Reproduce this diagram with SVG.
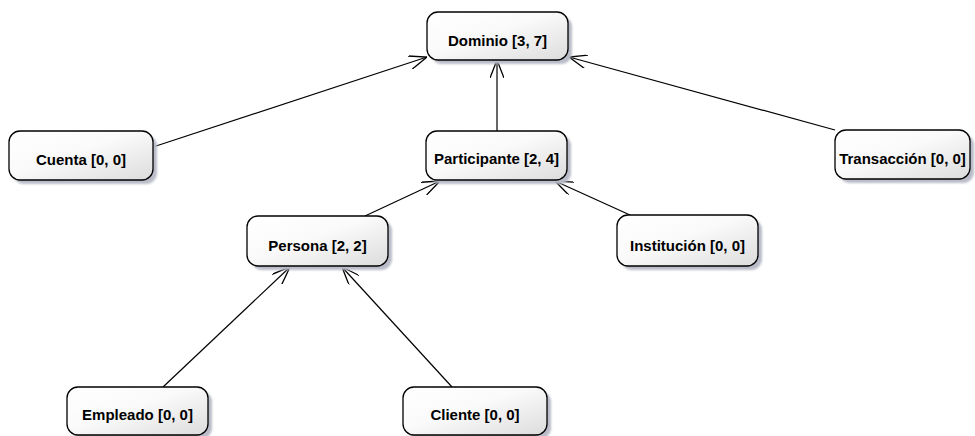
<svg xmlns="http://www.w3.org/2000/svg" width="975" height="436" viewBox="0 0 975 436">
  <defs>
    <linearGradient id="boxFill" x1="0" y1="0" x2="1" y2="1">
      <stop offset="0" stop-color="#ffffff"/>
      <stop offset="0.45" stop-color="#fafafa"/>
      <stop offset="1" stop-color="#dcdcdc"/>
    </linearGradient>
    <filter id="soft" x="-10%" y="-10%" width="130%" height="140%">
      <feGaussianBlur stdDeviation="1.2"/>
    </filter>
    <marker id="open" viewBox="0 0 18 14" refX="18" refY="7" markerWidth="18" markerHeight="14" markerUnits="userSpaceOnUse" orient="auto">
      <path d="M0,0 L18,7 L0,14" fill="none" stroke="#000" stroke-width="1.3"/>
    </marker>
    <style>
      .shadow { fill: #b9bcc8; filter: url(#soft); }
      .box { fill: url(#boxFill); stroke: #000; stroke-width: 1.3; }
      .label { font-family: "Liberation Sans", Arial, sans-serif; font-weight: bold; font-size: 15px; fill: #000; text-anchor: middle; }
      .edge { fill: none; stroke: #000; stroke-width: 1.2; marker-end: url(#open); }
    </style>
  </defs>
  <rect width="975" height="436" fill="#ffffff"/>

  <g id="connectors">
    <path class="edge" d="M153,147 L427,57"/>
    <path class="edge" d="M497,131 L497,60"/>
    <path class="edge" d="M835,130 L569,57"/>
    <path class="edge" d="M365,216 L440,181"/>
    <path class="edge" d="M630,215 L555,181"/>
    <path class="edge" d="M163,387 L290,267"/>
    <path class="edge" d="M452,387 L342,267"/>
  </g>

  <g id="dominio">
    <rect class="shadow" x="431" y="16" width="141" height="48" rx="11"/>
    <rect class="box" x="427" y="12" width="141" height="48" rx="11"/>
    <text class="label" x="497.5" y="46">Dominio [3, 7]</text>
  </g>
  <g id="cuenta">
    <rect class="shadow" x="13" y="135" width="144" height="49" rx="11"/>
    <rect class="box" x="9" y="131" width="144" height="49" rx="11"/>
    <text class="label" x="81" y="165">Cuenta [0, 0]</text>
  </g>
  <g id="participante">
    <rect class="shadow" x="430" y="135" width="141" height="49" rx="11"/>
    <rect class="box" x="426" y="131" width="141" height="49" rx="11"/>
    <text class="label" x="496.5" y="164">Participante [2, 4]</text>
  </g>
  <g id="transaccion">
    <rect class="shadow" x="839" y="134" width="135" height="49" rx="11"/>
    <rect class="box" x="835" y="130" width="135" height="49" rx="11"/>
    <text class="label" x="902.5" y="164">Transacción [0, 0]</text>
  </g>
  <g id="persona">
    <rect class="shadow" x="251" y="220" width="141" height="50" rx="11"/>
    <rect class="box" x="247" y="216" width="141" height="50" rx="11"/>
    <text class="label" x="317.5" y="251">Persona [2, 2]</text>
  </g>
  <g id="institucion">
    <rect class="shadow" x="621" y="219" width="141" height="51" rx="11"/>
    <rect class="box" x="617" y="215" width="141" height="51" rx="11"/>
    <text class="label" x="687.5" y="251">Institución [0, 0]</text>
  </g>
  <g id="empleado">
    <rect class="shadow" x="71" y="391" width="141" height="48" rx="11"/>
    <rect class="box" x="67" y="387" width="141" height="48" rx="11"/>
    <text class="label" x="137.5" y="420">Empleado [0, 0]</text>
  </g>
  <g id="cliente">
    <rect class="shadow" x="407" y="391" width="144" height="48" rx="11"/>
    <rect class="box" x="403" y="387" width="144" height="48" rx="11"/>
    <text class="label" x="475" y="420">Cliente [0, 0]</text>
  </g>
</svg>
